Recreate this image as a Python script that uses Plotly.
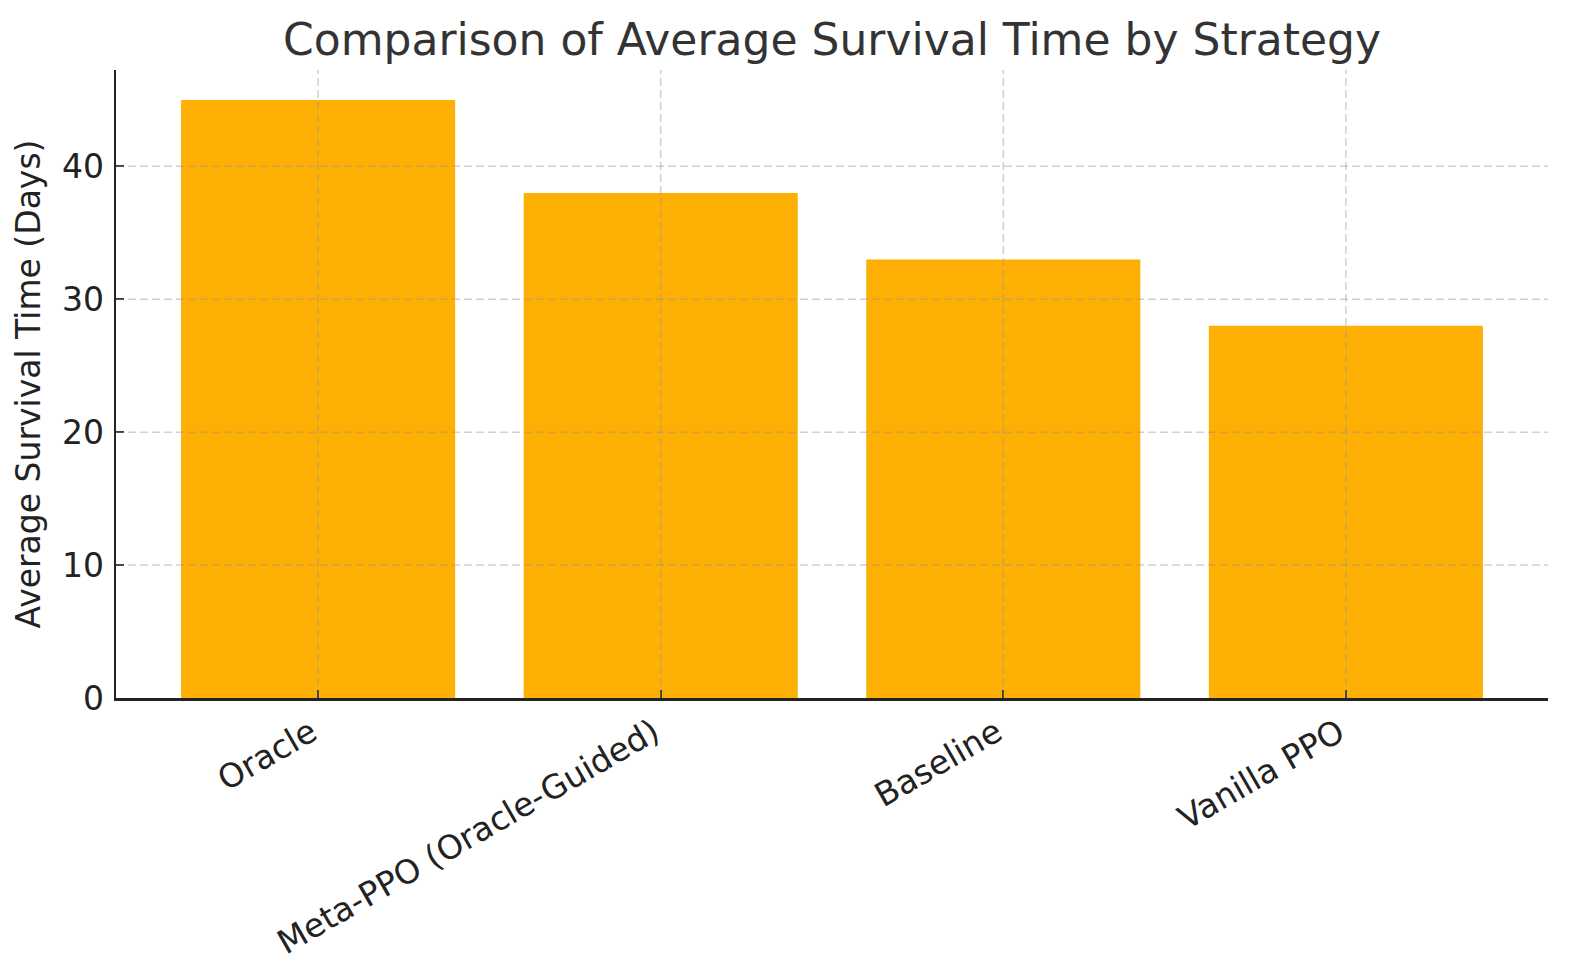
import plotly.graph_objects as go

categories = ["Oracle", "Meta-PPO (Oracle-Guided)", "Baseline", "Vanilla PPO"]
survival_days = [45, 38, 33, 28]
y_ticks = [0, 10, 20, 30, 40]

title_text = "Comparison of Average Survival Time by Strategy"
y_title = "Average Survival Time (Days)"

BAR_COLOR = "#FDB003"
GRID_COLOR = "rgba(150,150,150,0.45)"
FONT = "DejaVu Sans"

x_pos = list(range(len(categories)))

fig = go.Figure()
fig.add_trace(go.Bar(
    x=x_pos, y=survival_days, width=0.8,
    marker=dict(color=BAR_COLOR, line=dict(width=0)),
    hoverinfo="skip", showlegend=False,
))

# dashed grid lines drawn above the bars (as in the reference)
shapes = []
for xv in x_pos:
    shapes.append(dict(type="line", xref="x", yref="paper", x0=xv, x1=xv, y0=0, y1=1,
                       line=dict(color=GRID_COLOR, width=1.5, dash="8px,4px"), layer="above"))
for yv in y_ticks[1:]:
    shapes.append(dict(type="line", xref="paper", yref="y", x0=0, x1=1, y0=yv, y1=yv,
                       line=dict(color=GRID_COLOR, width=1.5, dash="8px,4px"), layer="above"))

fig.update_layout(
    width=1580, height=980,
    margin=dict(l=116, r=32, t=70, b=282),
    paper_bgcolor="white", plot_bgcolor="white",
    font=dict(family=FONT, color="#222222", size=33),
    title=dict(text=title_text, x=(116 + 1548) / 2 / 1580, xanchor="center",
               y=1 - 40 / 980, yanchor="middle", yref="container",
               font=dict(size=44, color="#333333", family=FONT)),
    shapes=shapes,
    bargap=0.2,
)
fig.update_xaxes(
    range=[-0.59, 3.59], tickmode="array", tickvals=x_pos, ticktext=categories,
    tickangle=-30, showgrid=False, zeroline=False,
    showline=True, linecolor="#222222", linewidth=2.5,
    ticks="inside", ticklen=8, tickwidth=2, tickcolor="#222222",
    tickfont=dict(size=33, color="#222222", family=FONT),
    ticklabelshift=-7,
    layer="above traces",
)
fig.update_yaxes(
    range=[0, 47.25], tickmode="array", tickvals=y_ticks,
    showgrid=False, zeroline=False,
    showline=True, linecolor="#222222", linewidth=2.5,
    ticks="inside", ticklen=8, tickwidth=2, tickcolor="#222222",
    tickfont=dict(size=33, color="#222222", family=FONT),
    ticklabelstandoff=3,
    title=dict(text=y_title, font=dict(size=33, color="#222222", family=FONT), standoff=12),
    layer="above traces",
)

fig.write_html(
    "out.html",
    config={"displayModeBar": False, "staticPlot": True},
    post_script="document.body.style.margin='0';document.body.style.overflow='hidden';",
)
